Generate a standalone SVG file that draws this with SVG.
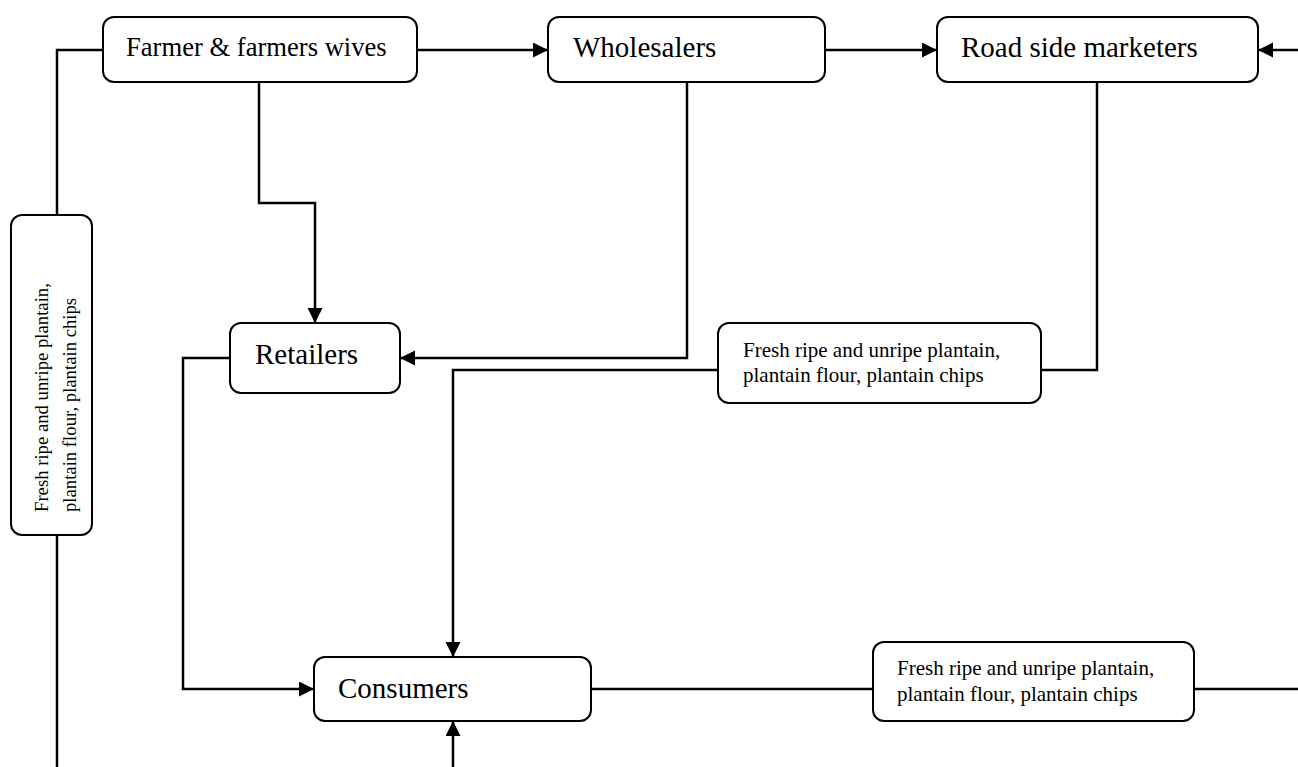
<svg xmlns="http://www.w3.org/2000/svg" width="1298" height="767" viewBox="0 0 1298 767">
<style>
.box{fill:#fff;stroke:#000;stroke-width:2}
.ln{fill:none;stroke:#000;stroke-width:2.5}
.lbl{font-family:"Liberation Serif","Times New Roman",serif;font-size:29px;fill:#000}
.cap{font-family:"Liberation Serif","Times New Roman",serif;font-size:21px;fill:#000}
</style>
<defs>
<marker id="ah" markerWidth="16" markerHeight="16" refX="15" refY="7.5" orient="auto" markerUnits="userSpaceOnUse">
<path d="M0,0 L15,7.5 L0,15 Z" fill="#000"/>
</marker>
</defs>
<rect width="1298" height="767" fill="#fff"/>
<g id="connectors">
<path class="ln" d="M417,50 H548" marker-end="url(#ah)"/>
<path class="ln" d="M825,50 H937" marker-end="url(#ah)"/>
<path class="ln" d="M1298,50 H1258" marker-end="url(#ah)"/>
<path class="ln" d="M102,50 H57 V215"/>
<path class="ln" d="M57,535 V767"/>
<path class="ln" d="M259,82 V203 H315 V323" marker-end="url(#ah)"/>
<path class="ln" d="M687,82 V358 H400" marker-end="url(#ah)"/>
<path class="ln" d="M1097,82 V370 H1041"/>
<path class="ln" d="M718,370 H453 V657" marker-end="url(#ah)"/>
<path class="ln" d="M230,358 H183 V689 H314" marker-end="url(#ah)"/>
<path class="ln" d="M453,767 V721" marker-end="url(#ah)"/>
<path class="ln" d="M591,689 H873"/>
<path class="ln" d="M1194,689 H1298"/>
</g>
<g id="farmer">
<rect class="box" x="103" y="17" width="314" height="65" rx="11"/>
<text class="lbl" x="126" y="56" style="font-size:26.6px">Farmer &amp; farmers wives</text>
</g>
<g id="wholesalers">
<rect class="box" x="548" y="17" width="277" height="65" rx="11"/>
<text class="lbl" x="573" y="57">Wholesalers</text>
</g>
<g id="roadside">
<rect class="box" x="937" y="17" width="321" height="65" rx="11"/>
<text class="lbl" x="961" y="57">Road side marketers</text>
</g>
<g id="retailers">
<rect class="box" x="230" y="323" width="170" height="70" rx="11"/>
<text class="lbl" x="255" y="364">Retailers</text>
</g>
<g id="consumers">
<rect class="box" x="314" y="657" width="277" height="64" rx="11"/>
<text class="lbl" x="338" y="698">Consumers</text>
</g>
<g id="caption-left">
<rect class="box" x="11" y="215" width="81" height="320" rx="11"/>
<text class="cap" transform="translate(48,512) rotate(-90)" style="font-size:18.7px">Fresh ripe and unripe plantain,</text>
<text class="cap" transform="translate(76,512) rotate(-90)" style="font-size:18.7px">plantain flour, plantain chips</text>
</g>
<g id="caption-mid">
<rect class="box" x="718" y="323" width="323" height="80" rx="11"/>
<text class="cap" x="743" y="357">Fresh ripe and unripe plantain,</text>
<text class="cap" x="743" y="382">plantain flour, plantain chips</text>
</g>
<g id="caption-bottom">
<rect class="box" x="873" y="642" width="321" height="79" rx="11"/>
<text class="cap" x="897" y="675">Fresh ripe and unripe plantain,</text>
<text class="cap" x="897" y="701">plantain flour, plantain chips</text>
</g>
</svg>
